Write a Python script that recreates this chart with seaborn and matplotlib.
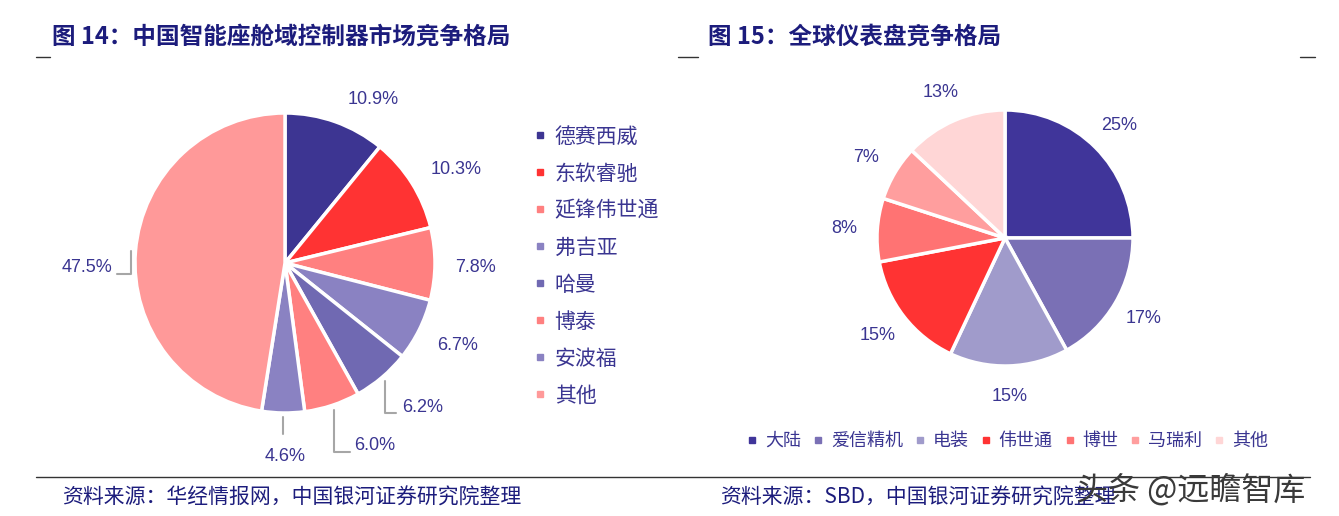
#!/usr/bin/env python3
import numpy as np
import matplotlib.pyplot as plt
import seaborn as sns
from matplotlib.lines import Line2D

# 图14 数据：中国智能座舱域控制器市场竞争格局
cabin_names = ["德赛西威", "东软睿驰", "延锋伟世通", "弗吉亚", "哈曼", "博泰", "安波福", "其他"]
cabin_share = [10.9, 10.3, 7.8, 6.7, 6.2, 6.0, 4.6, 47.5]
cabin_colors = ["#3D3592", "#FF3333", "#FF8080", "#8A82C2", "#7069B2",
                "#FF8080", "#8A82C2", "#FF9999"]

# 图15 数据：全球仪表盘竞争格局
cluster_names = ["大陆", "爱信精机", "电装", "伟世通", "博世", "马瑞利", "其他"]
cluster_share = [25, 17, 15, 15, 8, 7, 13]
cluster_colors = ["#40359A", "#7A70B5", "#A09BCB", "#FF3333", "#FF7373",
                  "#FF9E9E", "#FFD6D6"]

TEXT = "#3A3591"
TITLE = "#1C1C7C"
LEADER = "#A6A6A6"

W, H = 1339, 516

sns.set_theme(style="white")
plt.rcParams['font.family'] = ['Noto Sans CJK SC', 'DejaVu Sans']


def px_box(cx, cy, r):
    # 像素中心/半径 -> figure 坐标
    return [(cx - r) / W, 1 - (cy + r) / H, 2 * r / W, 2 * r / H]


def mid_angle(w):
    return np.deg2rad((w.theta1 + w.theta2) / 2)


fig = plt.figure(figsize=(W / 100, H / 100), dpi=100)

# --- 左图 ---
ax1 = fig.add_axes(px_box(285, 263, 150))
wedges1, _ = ax1.pie(cabin_share, colors=cabin_colors, startangle=90, counterclock=False,
                     wedgeprops=dict(edgecolor="white", linewidth=2.5))
ax1.set_xlim(-1, 1)
ax1.set_ylim(-1, 1)
ax1.axis("off")

# 标签位置（x, y, ha, 引线y, 引线终点x）
left_layout = [
    (0.59, 1.09, "center", None, None),
    (1.14, 0.62, "center", None, None),
    (1.27, -0.03, "center", None, None),
    (1.15, -0.55, "center", None, None),
    (0.78, -0.96, "left", -1.00, 0.74),
    (0.46, -1.22, "left", -1.26, 0.43),
    (0.00, -1.29, "center", -1.14, None),
    (-1.15, -0.03, "right", -0.073, -1.12),
]
for w, val, (tx, ty, ha, ly, lx) in zip(wedges1, cabin_share, left_layout):
    ax1.text(tx, ty, f"{val:.1f}%", ha=ha, va="center", fontsize=13,
             color=TEXT, family=["Liberation Sans"])
    if ly is not None:
        a = mid_angle(w)
        ex, ey = 1.03 * np.cos(a), 1.03 * np.sin(a)
        xs, ys = [ex, ex], [ey, ly]
        if lx is not None:
            xs.append(lx)
            ys.append(ly)
        ax1.plot(xs, ys, color=LEADER, lw=1.5, clip_on=False)

handles1 = [Line2D([], [], marker="s", linestyle="", color=c, markersize=5) for c in cabin_colors]
leg1 = fig.legend(handles1, cabin_names, loc="upper left",
                  bbox_to_anchor=(514 / W, 1 - 107 / H), frameon=False, fontsize=15,
                  labelspacing=0.72, handlelength=0.7, handletextpad=0.35)
for t in leg1.get_texts():
    t.set_color(TEXT)

# --- 右图 ---
ax2 = fig.add_axes(px_box(1005, 238, 128))
wedges2, _ = ax2.pie(cluster_share, colors=cluster_colors, startangle=90, counterclock=False,
                     wedgeprops=dict(edgecolor="white", linewidth=2.5))
ax2.set_xlim(-1, 1)
ax2.set_ylim(-1, 1)
ax2.axis("off")
for w, val in zip(wedges2, cluster_share):
    a = mid_angle(w)
    ax2.text(1.26 * np.cos(a), 1.24 * np.sin(a), f"{val}%", ha="center", va="center",
             fontsize=13, color=TEXT, family=["Liberation Sans"])

handles2 = [Line2D([], [], marker="s", linestyle="", color=c, markersize=5) for c in cluster_colors]
leg2 = fig.legend(handles2, cluster_names, loc="center", ncol=len(cluster_names),
                  bbox_to_anchor=(1007 / W, 1 - 441 / H), frameon=False, fontsize=13,
                  columnspacing=0.6, handlelength=0.7, handletextpad=0.35)
for t in leg2.get_texts():
    t.set_color(TEXT)

# --- 标题、分隔线、来源 ---
fig.text(52 / W, 1 - 37 / H, "图 14：中国智能座舱域控制器市场竞争格局", fontsize=17,
         fontweight="bold", color=TITLE, va="center")
fig.text(708 / W, 1 - 37 / H, "图 15：全球仪表盘竞争格局", fontsize=17,
         fontweight="bold", color=TITLE, va="center")

for x0, x1, y in [(36, 50, 57), (678, 698, 57), (1300, 1315, 57), (36, 1310, 477)]:
    fig.add_artist(Line2D([x0 / W, x1 / W], [1 - y / H, 1 - y / H], color="#333333",
                          lw=1, transform=fig.transFigure))

fig.text(62 / W, 1 - 498 / H, "资料来源：华经情报网，中国银河证券研究院整理", fontsize=15,
         color=TITLE, va="center")
fig.text(720 / W, 1 - 498 / H, "资料来源：SBD，中国银河证券研究院整理", fontsize=15,
         color=TITLE, va="center")
fig.text(1076 / W, 1 - 490 / H, "头条 @远瞻智库", fontsize=23, color="#3A3A3A", va="center")

fig.savefig("out.png", dpi=100)
